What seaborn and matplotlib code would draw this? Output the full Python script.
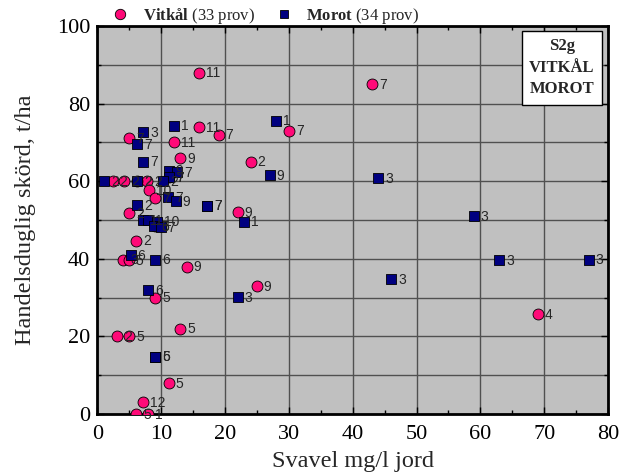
import matplotlib
matplotlib.use("Agg")
import matplotlib.pyplot as plt
from matplotlib.lines import Line2D
from matplotlib.ticker import MultipleLocator
import seaborn as sns
import pandas as pd

# ---- data ----
vit_x = [16, 43, 30, 16, 19, 5, 12, 13, 24, 2.4, 4.2, 7.8, 8.1, 9.1, 5.0, 22, 6.1, 4.1, 4.9, 14, 25, 9.1, 69, 13, 3.1, 5.0, 11.2, 7.1, 6.1, 8.0, 6.2, 9.0, 11.2]
vit_y = [88, 85, 73, 74, 72, 71, 70, 66, 65, 60, 60, 60, 57.6, 55.7, 51.7, 52, 44.7, 39.8, 39.6, 38, 33, 30, 25.7, 22, 20, 20, 8, 3, 0, 0, 60, 48.4, 61]
vit_lab = ["11", "7", "7", "11", "7", "7", "11", "9", "2", "2", "2", "2", "10", "7", "2", "9", "2", "3", "5", "9", "9", "5", "4", "5", "2", "5", "5", "12", "5", "1", "2", "5", "7"]

mor_x = [28, 12, 7.2, 6.2, 7.2, 11.2, 12.5, 11.2, 27, 44, 1.1, 6.2, 10.3, 11.1, 12.3, 17.2, 17.2, 6.2, 59, 23, 7.2, 8.0, 9.3, 8.9, 9.9, 5.2, 9.1, 63, 77, 46, 8.0, 22, 9.1, 9.1]
mor_y = [75.6, 74.3, 72.7, 69.6, 65, 62.7, 62.3, 61, 61.5, 60.8, 60, 60, 60, 55.8, 54.8, 53.7, 53.7, 53.9, 50.9, 49.6, 49.9, 49.9, 49.6, 48.4, 48.1, 40.9, 39.8, 39.6, 39.8, 34.7, 31.9, 30.1, 14.8, 14.8]
mor_lab = ["1", "1", "3", "7", "7", "9", "7", "7", "9", "3", "2", "2", "2", "7", "9", "7", "7", "2", "3", "1", "1", "1", "10", "6", "7", "6", "6", "3", "3", "3", "6", "3", "5", "6"]

crops = ["Vitkål", "Morot"]
legend_labels = [r"$\mathbf{Vitkål}$ (33 prov)", r"$\mathbf{Morot}$ (34 prov)"]
pink = "#FF0A78"
navy = "#000080"

vit = pd.DataFrame({"x": vit_x, "y": vit_y, "lab": vit_lab})
mor = pd.DataFrame({"x": mor_x, "y": mor_y, "lab": mor_lab})

# ---- style ----
sns.set_style("ticks")
plt.rcParams["font.family"] = ["Liberation Serif", "DejaVu Serif"]
plt.rcParams["mathtext.fontset"] = "custom"
plt.rcParams["mathtext.rm"] = "Liberation Serif"
plt.rcParams["mathtext.bf"] = "Liberation Serif:bold"

fig = plt.figure(figsize=(6.36, 4.72), dpi=100)
ax = fig.add_axes([0.153, 0.123, 0.803, 0.822])
ax.set_facecolor("#C0C0C0")

sns.scatterplot(data=vit, x="x", y="y", color=pink, marker="o", s=62,
                edgecolor="black", linewidth=0.6, legend=False, zorder=3, ax=ax)
sns.scatterplot(data=mor, x="x", y="y", color=navy, marker="s", s=50,
                edgecolor="black", linewidth=0.6, legend=False, zorder=3, ax=ax)

for d in (vit, mor):
    for x, y, lab in zip(d["x"], d["y"], d["lab"]):
        ax.annotate(lab, (x, y), xytext=(5, -0.5), textcoords="offset points",
                    ha="left", va="center", fontsize=10,
                    family=["Liberation Sans", "DejaVu Sans"], zorder=4)

ax.set_xlim(0, 80)
ax.set_ylim(0, 100)
ax.xaxis.set_major_locator(MultipleLocator(10))
ax.xaxis.set_minor_locator(MultipleLocator(5))
ax.yaxis.set_major_locator(MultipleLocator(20))
ax.yaxis.set_minor_locator(MultipleLocator(10))

ax.grid(True, which="major", axis="x", color="#505050", lw=1.0, zorder=0)
ax.grid(True, which="both", axis="y", color="#505050", lw=1.0, zorder=0)
ax.xaxis.grid(False, which="minor")
ax.set_axisbelow(True)

ax.tick_params(which="both", direction="in", top=True, right=True,
               labelsize=16, width=1, colors="black")
ax.tick_params(axis="x", which="major", length=5, pad=8)
ax.tick_params(axis="y", which="major", length=5, pad=5)
ax.tick_params(which="minor", length=3)
for sp in ax.spines.values():
    sp.set_linewidth(2)
    sp.set_color("black")

ax.set_xlabel("Svavel mg/l jord", fontsize=17.5, labelpad=5)
ax.set_ylabel("Handelsduglig skörd, t/ha", fontsize=17.5, labelpad=15)

handles = [
    Line2D([], [], marker="o", ls="", markerfacecolor=pink, markeredgecolor="black",
           markeredgewidth=0.6, markersize=7.5),
    Line2D([], [], marker="s", ls="", markerfacecolor=navy, markeredgecolor="black",
           markeredgewidth=0.6, markersize=6),
]
ax.legend(handles, legend_labels, loc="lower left", bbox_to_anchor=(0.02, 1.0),
          ncol=2, frameon=False, fontsize=12, handletextpad=0.6, handlelength=1.5,
          columnspacing=1.0, borderaxespad=0, borderpad=0)

ax.text(0.91, 0.892, "S2g\nVITKÅL\nMOROT", transform=ax.transAxes,
        ha="center", va="center", multialignment="center",
        fontsize=12, fontweight="bold", linespacing=1.45,
        bbox=dict(boxstyle="square,pad=0.45", fc="white", ec="black", lw=1),
        zorder=5)

fig.savefig("out.png", dpi=100)
